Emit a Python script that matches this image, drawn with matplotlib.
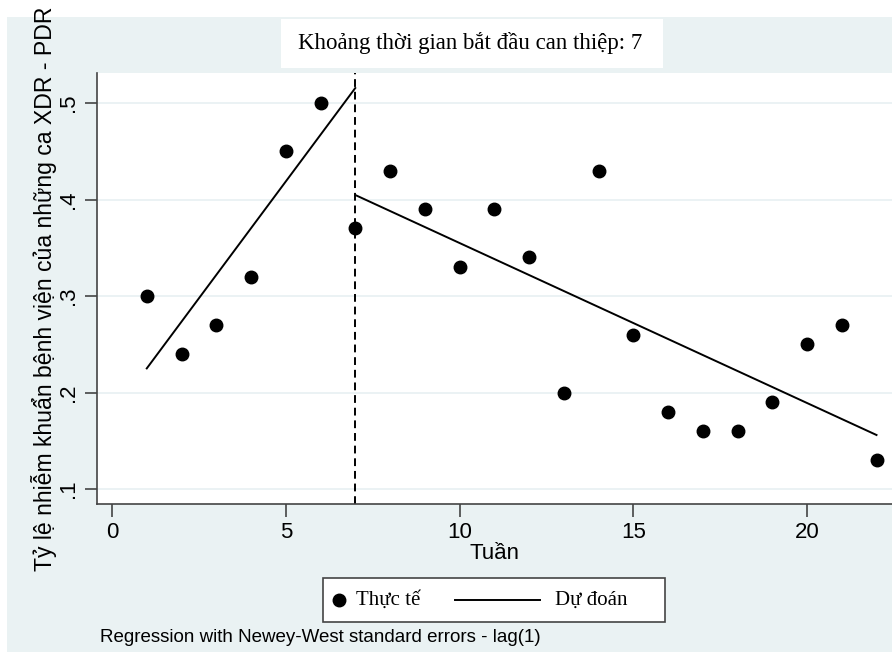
import matplotlib
matplotlib.use("Agg")
import matplotlib.pyplot as plt
from matplotlib.patches import Rectangle
from matplotlib.lines import Line2D

weeks = list(range(1, 23))
actual = [0.30, 0.24, 0.27, 0.32, 0.45, 0.50, 0.37, 0.43, 0.39, 0.33, 0.39,
          0.34, 0.20, 0.43, 0.26, 0.18, 0.16, 0.16, 0.19, 0.25, 0.27, 0.13]
pre_x = [1, 7]
pre_fit = [0.225, 0.5155]
post_x = [7, 22]
post_fit = [0.4047, 0.156]
intervention = 7
xticks = [0, 5, 10, 15, 20]
yticks = [0.1, 0.2, 0.3, 0.4, 0.5]
ytick_labels = [".1", ".2", ".3", ".4", ".5"]

title = "Khoảng thời gian bắt đầu can thiệp: 7"
ylabel = "Tỷ lệ nhiễm khuẩn bệnh viện của những ca XDR - PDR"
xlabel = "Tuần"
legend_labels = ["Thực tế", "Dự đoán"]
note = "Regression with Newey-West standard errors - lag(1)"

W, H = 892, 652
BG = "#EAF2F3"
sans = ["Liberation Sans", "DejaVu Sans"]
serif = ["Liberation Serif", "DejaVu Serif"]

fig = plt.figure(figsize=(W / 100, H / 100), dpi=100, facecolor="white")

def fx(px):
    return px / W

def fy(py):
    return 1 - py / H

# outer graph region
fig.patches.append(Rectangle((fx(7), 0), fx(W - 7), fy(17), transform=fig.transFigure,
                             facecolor=BG, edgecolor="none", zorder=-5))

ax = fig.add_axes([fx(97), fy(504), fx(W - 97), fy(73) - fy(504)])
ax.set_zorder(1)
ax.set_facecolor("white")
ax.set_xlim(-0.432, 22.446)
ax.set_ylim(0.0845, 0.5311)

for y in yticks:
    ax.axhline(y, color="#E8F0F2", lw=1.2, zorder=0)

ax.plot(weeks, actual, "o", color="black", ms=9, zorder=3)
ax.plot(pre_x, pre_fit, color="black", lw=1.4, zorder=2)
ax.plot(post_x, post_fit, color="black", lw=1.4, zorder=2)
ax.axvline(intervention, color="black", lw=1.4, ls=(0, (4, 2.5)), zorder=2)

for s in ["top", "right"]:
    ax.spines[s].set_visible(False)
for s in ["left", "bottom"]:
    ax.spines[s].set_color("#444444")
    ax.spines[s].set_linewidth(1.2)

ax.set_xticks(xticks)
ax.set_xticklabels([str(v) for v in xticks], fontfamily=sans, fontsize=16)
ax.set_yticks(yticks)
ax.set_yticklabels(ytick_labels, fontfamily=sans, fontsize=16, rotation=90, va="center")
ax.tick_params(axis="both", length=9, width=1.2, color="#444444", pad=4)

ax.set_xlabel(xlabel, fontfamily=sans, fontsize=16, labelpad=0)
ax.set_ylabel(ylabel, fontfamily=sans, fontsize=16.6, labelpad=0.5)

# title box
fig.patches.append(Rectangle((fx(281), fy(68)), fx(663 - 281), fy(19) - fy(68),
                             transform=fig.transFigure, facecolor="white",
                             edgecolor="none", zorder=2))
fig.text(fx(470), fy(43), title, fontfamily=serif, fontsize=16.5,
         ha="center", va="center", zorder=3)

# legend box
fig.patches.append(Rectangle((fx(323), fy(622)), fx(665 - 323), fy(578) - fy(622),
                             transform=fig.transFigure, facecolor="white",
                             edgecolor="#444444", lw=1.2, zorder=2))
fig.lines.append(Line2D([fx(339)], [fy(600)], marker="o", color="black", ms=9,
                        transform=fig.transFigure, zorder=3))
fig.text(fx(356), fy(600), legend_labels[0], fontfamily=serif, fontsize=15,
         ha="left", va="center", zorder=3)
fig.lines.append(Line2D([fx(455), fx(540)], [fy(600), fy(600)], color="black", lw=1.4,
                        transform=fig.transFigure, zorder=3))
fig.text(fx(555), fy(600), legend_labels[1], fontfamily=serif, fontsize=15,
         ha="left", va="center", zorder=3)

fig.text(fx(100), fy(637), note, fontfamily=sans, fontsize=13.5, ha="left", va="center",
         zorder=3)

fig.savefig("out.png", dpi=100, facecolor=fig.get_facecolor())
